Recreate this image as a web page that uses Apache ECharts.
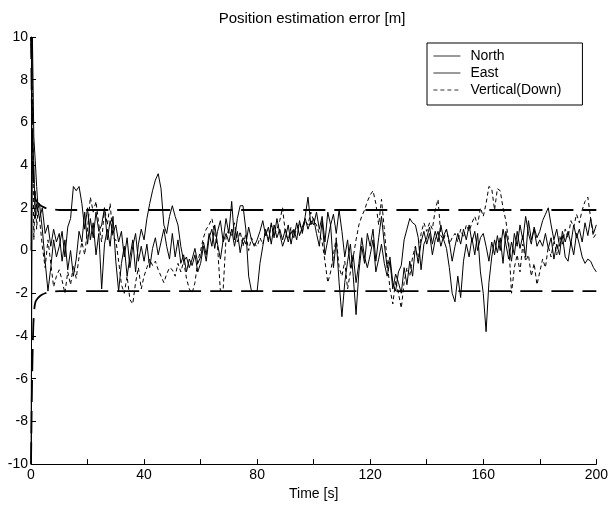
<!DOCTYPE html>
<html><head><meta charset="utf-8">
<script src="https://cdn.jsdelivr.net/npm/echarts@6/dist/echarts.min.js"></script>
<style>html,body{margin:0;padding:0;background:#fff}#c{width:611px;height:506px}</style>
</head><body><div id="c"></div>
<script>
// time samples [s]: dense at the start, then 1 s steps
var earlyTimes = [0, 0.5, 1, 1.5, 2, 2.5];
var times = earlyTimes.slice();
for (var s = 3; s <= 200; s++) times.push(s);

var north = [
  0, 10, 5.3, 4.2, 3.0, 2.0,
  2.2, 1.0, -0.5, -1.9, -0.8, 0.5, -0.3,
  0.2, 0.9, -0.3, 1.1, 1.5, 3.0, 2.8, 3.0, 2.2, 1.0,
  2.0, 0.5, 1.3, -0.2, 0.8, -1.8, 0.3, 1.0, 0.2, 1.6,
  -0.5, -1.9, -0.6, 0.2, -1.2, -0.3, 0.5, -1.0, 0.3, 1.0,
  0.5, 1.5, 2.2, 2.8, 3.3, 3.6, 2.9, 1.2, 0.8, 1.6,
  2.1, 1.6, 1.2, 0.2, -0.5, -0.3, -0.8, -0.4, 0.1, -0.6,
  -0.3, 0.4, -0.2, 0.8, 0.2, 1.2, 0.3, -0.4, 0.5, 1.5,
  0.8, 2.3, 0.5, 1.5, 2.1, 2.1, 1.0, -1.2, -1.9, -1.9,
  -1.9, -0.6, 0.2, 1.0, 0.4, 1.3, 0.6, 1.5, 0.8, 0.2,
  0.6, 1.2, 0.3, 1.0, 0.5, 1.4, 0.8, 1.6, 2.5, 1.2,
  1.5, 0.8, 0.2, 1.4, -0.2, 0.5, 1.2, -0.8, 0.5, -1.5,
  -3.1, -1.5, -0.5, 0.3, -1.2, -3.0, -1.0, 0.2, -0.6, 0.8,
  0.2, 1.0, -0.5, 0.6, 1.6, 0.3, -0.8, -0.3, -1.5, -1.9,
  -1.0, -0.7, 0.5, 1.0, 1.5, 1.3, 1.2, 0.6, -0.9, 0.3,
  0.6, 1.1, 0.3, 0.9, 0.4, 1.2, 0.5, 0.1, -0.8, -2.0,
  -2.4, -1.2, -2.2, -0.5, 0.3, -0.3, 0.6, -0.2, 0.8, -1.0,
  -2.0, -3.8, -1.5, -0.3, 0.5, -0.1, 0.6, -0.6, 0.9, 0.2,
  -0.5, 0.8, 0.2, 1.2, 0.5, 1.6, 0.8, 0.3, 1.1, 0.6,
  0.9, 1.4, 1.7, 2.0, 1.2, 0.5, 1.0, 0.2, 0.7, -0.3,
  -0.5, 0.4, -0.2, 0.8, 0.3, -0.3, -0.6, -0.4, -0.5, -0.8, -1.0
];
var east = [
  -10, 5.5, 4.0, 1.5, 2.2, 1.8,
  1.5, 2.0, 0.8, 1.2, 0.2, 1.0, 0.4,
  0.8, -0.5, 0.5, -0.9, 0.0, -1.2, -0.4, 0.9, 0.4, 1.8,
  0.3, 1.5, 0.6, 1.8, 0.9, 1.2, 2.0, 0.5, 1.4, 0.8,
  1.2, 0.4, 0.9, -0.3, 0.6, -0.8, 0.2, 0.8, -0.5, 0.2,
  -0.5, 0.3, -0.8, 0.1, 0.6, -0.2, 0.4, 1.0, 0.2, -0.4,
  0.8, -0.3, 0.5, -0.6, -0.2, -1.0, -0.4, -0.7, -0.2, -1.0,
  -0.6, 0.2, -0.5, 0.6, 1.0, 0.1, 0.9, 1.4, 0.4, 0.8,
  0.4, 1.0, 0.2, 0.9, -0.1, 0.6, 0.3, 1.1, 0.5, 0.2,
  0.5, 0.9, 1.4, 0.7, 1.1, 0.3, 1.2, 0.6, 1.0, 0.5,
  1.0, 0.4, 0.9, 0.6, 1.3, 0.7, 1.1, 1.5, 1.0, 1.4,
  1.2, 1.8, 1.0, 1.6, 0.4, 1.8, 1.2, 1.7, 0.8, 1.9,
  0.9, -0.3, 0.5, -0.8, -0.2, -1.5, -0.6, 0.6, -0.3, -0.8,
  -0.2, 0.5, -1.0, -0.4, 0.3, -0.6, -1.2, -0.5, -1.8, -1.1,
  -1.5, -2.0, -0.8, -1.6, -0.5, -1.2, 0.2, -0.6, 0.4, 0.9,
  0.3, 0.8, -0.2, 0.5, 0.9, 0.2, 0.7, 1.0, 0.4, -0.5,
  0.2, 0.8, 0.3, 1.0, 0.5, 1.2, 0.4, 0.9, 0.0, 0.6,
  0.8, 0.2, -0.5, 0.4, -0.2, 0.7, 0.0, 1.0, 0.3, -0.4,
  0.4, -0.2, 0.9, 0.1, 0.7, -0.3, 1.4, 0.5, 1.0, 0.2,
  0.5, 0.2, 0.8, 0.1, 0.6, -0.4, 0.3, -0.2, 0.9, 0.4,
  0.9, 0.3, 1.2, 0.6, 1.0, 0.4, 1.3, 0.7, 1.5, 0.8, 1.2
];
var vertical = [
  10, 7.0, 0.5, 2.8, 1.0, 2.0,
  1.5, 0.2, -0.8, 0.5, -0.6, -1.7, -1.2,
  -0.9, -1.4, -2.0, -1.0, -1.6, -0.7, -1.3, -0.3, 0.4, -0.2,
  1.0, 2.5, 1.8, 2.3, 1.2, 0.4, 2.0, 1.2, 2.2, 0.6,
  0.5, -0.5, -1.6, -2.0, -1.2, -2.3, -2.5, -1.5, -0.8, -1.8,
  -1.2, -0.8, -0.4, -0.7, -0.5, -0.9, -1.2, -1.5, -1.1, -0.8,
  -0.9, -1.2, -0.6, -1.0, -0.5, -1.3, -1.8, -2.0, -1.5, -0.5,
  0.0, 0.6, 1.0, 1.2, 1.5, 0.8, 0.2, -1.9, -1.8, 0.6,
  1.0, 0.7, 1.3, 0.4, 0.9, 0.2, 0.8, 0.0, 0.6, 0.3,
  0.2, 0.6, 0.3, 0.9, 0.5, 1.2, 0.7, 1.0, 1.4, 2.0,
  0.8, 0.5, 1.1, 0.7, 1.0, 1.3, 0.9, 1.4, 1.2, 1.8,
  1.4, 1.2, 0.8, 0.4, -0.5, -1.5, -1.0, -0.2, 0.6, -0.8,
  -1.2, -0.5, -1.8, -1.0, -0.3, 0.5, 1.2, 1.6, 1.9, 2.3,
  2.6, 2.8, 2.2, 1.2, 2.4, 1.0, -0.5, -1.8, -2.5, -1.4,
  -2.0, -2.7, -1.5, -0.8, -1.2, -0.3, 0.2, -0.5, 0.8, 1.3,
  0.9, 1.3, 1.0, 1.9, 2.4, 0.7, 0.5, 1.0, 0.3, 0.6,
  0.8, 0.4, 1.0, 0.6, 1.2, 0.9, 1.3, 1.6, 1.2, 2.0,
  1.6, 2.2, 3.0, 2.9, 1.9, 2.9, 2.8, 2.0, 1.4, 0.4,
  -2.0, -0.8, -0.2, -1.0, 0.3, -0.5, -0.2, -1.2, -0.6, -1.6,
  -1.0, -0.4, -0.8, 0.2, -0.3, 0.5, -0.2, 0.7, 0.3, 1.0,
  0.6, 1.4, 1.1, 1.7, 1.3, 1.9, 2.3, 2.5, 1.5, 0.6, 0.8
];

// error bounds
var boundTimes = [0, 0.4, 0.8, 1.2, 1.6, 2, 3, 4, 5, 6, 8, 10, 200];
var upperBound = [10, 6.0, 3.6, 2.7, 2.4, 2.3, 2.15, 2.06, 2.0, 1.96, 1.92, 1.9, 1.9];
var lowerBound = [-10, -6.0, -3.6, -2.7, -2.4, -2.3, -2.15, -2.06, -2.0, -1.96, -1.92, -1.9, -1.9];

var xTicks = {min: 0, max: 200, step: 20, labelStep: 40};
var yTicks = {min: -10, max: 10, step: 2};

function pairs(t, v) { var out = []; for (var i = 0; i < v.length; i++) out.push([t[i], v[i]]); return out; }

var FONT = 'Liberation Sans, Arial, sans-serif';
var chart = echarts.init(document.getElementById('c'), null, {renderer: 'canvas'});
chart.setOption({
  animation: false,
  backgroundColor: '#fff',
  title: {text: 'Position estimation error [m]', left: 307, textAlign: 'center', top: 6,
    textStyle: {fontFamily: FONT, fontSize: 15, fontWeight: 'normal', color: '#000'}},
  legend: {
    data: ['North', 'East', 'Vertical(Down)'],
    orient: 'vertical', left: 427, top: 43,
    padding: [6, 21, 8, 6], itemGap: 3, itemWidth: 27, itemHeight: 14,
    borderColor: '#000', borderWidth: 1, backgroundColor: '#fff',
    itemStyle: {opacity: 0},
    lineStyle: {width: 0.8},
    textStyle: {fontFamily: FONT, fontSize: 14, color: '#000', padding: [0, 0, 0, 5]}
  },
  grid: {left: 31, right: 12, top: 37, bottom: 31, containLabel: false},
  xAxis: {
    type: 'value', min: xTicks.min, max: xTicks.max, interval: xTicks.step,
    name: 'Time [s]', nameLocation: 'middle', nameGap: 17,
    nameTextStyle: {fontFamily: FONT, fontSize: 14, color: '#000'},
    axisLine: {onZero: false, lineStyle: {color: '#000', width: 1}},
    axisTick: {inside: true, length: 5, lineStyle: {color: '#000'}},
    axisLabel: {fontFamily: FONT, fontSize: 14, color: '#000', margin: 4,
      formatter: function (v) { return v % xTicks.labelStep === 0 ? String(v) : ''; }},
    splitLine: {show: false}
  },
  yAxis: {
    type: 'value', min: yTicks.min, max: yTicks.max, interval: yTicks.step,
    axisLine: {show: true, onZero: false, lineStyle: {color: '#000', width: 1}},
    axisTick: {show: true, inside: true, length: 5, lineStyle: {color: '#000'}},
    axisLabel: {fontFamily: FONT, fontSize: 14, color: '#000', margin: 3},
    splitLine: {show: false}
  },
  series: [
    {name: 'North', type: 'line', data: pairs(times, north), symbol: 'none',
      lineStyle: {color: '#000', width: 1}, itemStyle: {color: '#000'}},
    {name: 'East', type: 'line', data: pairs(times, east), symbol: 'none',
      lineStyle: {color: '#000', width: 1}, itemStyle: {color: '#000'}},
    {name: 'Vertical(Down)', type: 'line', data: pairs(times, vertical), symbol: 'none',
      lineStyle: {color: '#000', width: 1, type: [4, 3]}, itemStyle: {color: '#000'}},
    {name: 'upper', type: 'line', data: pairs(boundTimes, upperBound), symbol: 'none', smooth: 0.3,
      lineStyle: {color: '#000', width: 1.8, type: [22, 9]}, z: 5},
    {name: 'lower', type: 'line', data: pairs(boundTimes, lowerBound), symbol: 'none', smooth: 0.3,
      lineStyle: {color: '#000', width: 1.8, type: [22, 9]}, z: 5}
  ]
});
</script>
</body></html>
